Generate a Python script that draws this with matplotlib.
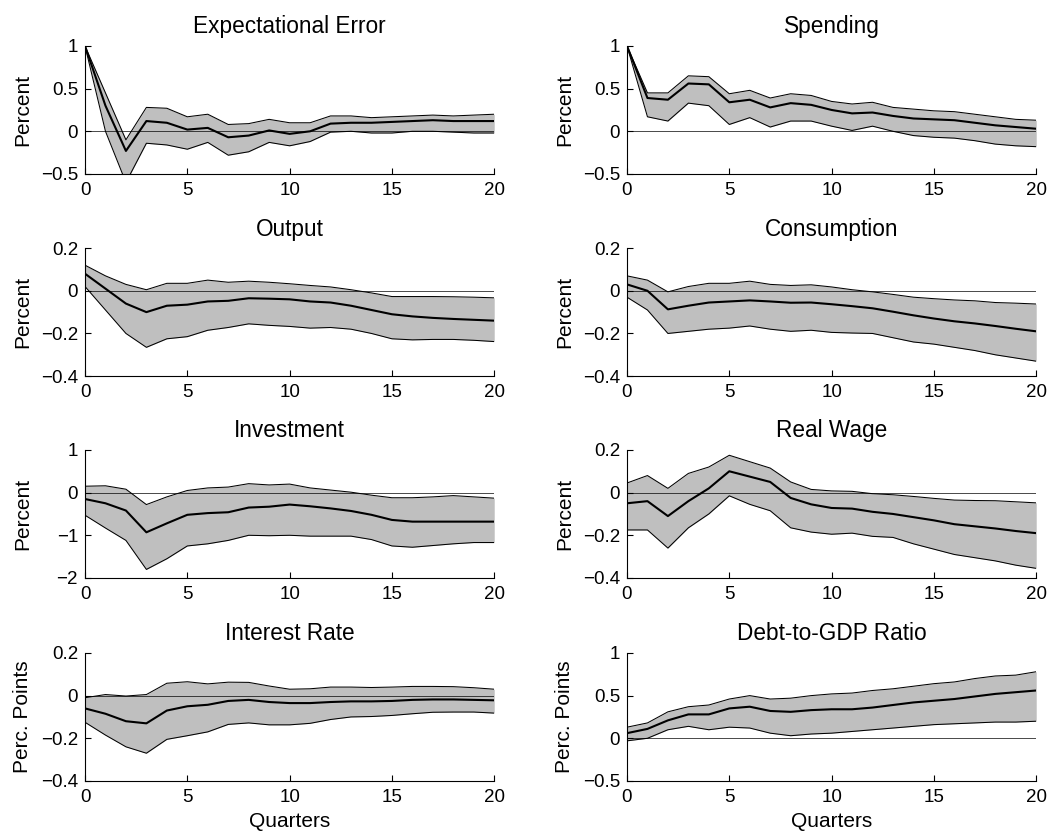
import numpy as np
import matplotlib
matplotlib.use("Agg")
import matplotlib.pyplot as plt

plt.rcParams['font.family'] = ['Liberation Sans', 'DejaVu Sans']

quarters = np.arange(0, 21)

titles = ["Expectational Error", "Spending", "Output", "Consumption",
          "Investment", "Real Wage", "Interest Rate", "Debt-to-GDP Ratio"]
ylabels = ["Percent"] * 6 + ["Perc. Points"] * 2
ylims = [(-0.5, 1), (-0.5, 1), (-0.4, 0.2), (-0.4, 0.2),
         (-2, 1), (-0.4, 0.2), (-0.4, 0.2), (-0.5, 1)]
yticks = [[-0.5, 0, 0.5, 1], [-0.5, 0, 0.5, 1],
          [-0.4, -0.2, 0, 0.2], [-0.4, -0.2, 0, 0.2],
          [-2, -1, 0, 1], [-0.4, -0.2, 0, 0.2],
          [-0.4, -0.2, 0, 0.2], [-0.5, 0, 0.5, 1]]

# median responses
exp_err = [1, 0.30, -0.23, 0.12, 0.10, 0.02, 0.04, -0.07, -0.05, 0.01, -0.03,
           0.0, 0.09, 0.10, 0.10, 0.11, 0.12, 0.13, 0.12, 0.12, 0.12]
spend = [1, 0.39, 0.37, 0.56, 0.55, 0.34, 0.37, 0.28, 0.33, 0.31, 0.25,
         0.21, 0.22, 0.18, 0.15, 0.14, 0.13, 0.10, 0.07, 0.05, 0.03]
output = [0.08, 0.01, -0.06, -0.10, -0.07, -0.065, -0.05, -0.047, -0.035, -0.037, -0.04,
          -0.05, -0.055, -0.07, -0.09, -0.11, -0.12, -0.127, -0.132, -0.136, -0.14]
cons = [0.03, 0.0, -0.087, -0.07, -0.055, -0.05, -0.045, -0.05, -0.056, -0.055, -0.063,
        -0.072, -0.082, -0.098, -0.115, -0.13, -0.143, -0.153, -0.165, -0.178, -0.19]
invest = [-0.15, -0.25, -0.42, -0.93, -0.72, -0.52, -0.48, -0.46, -0.35, -0.33, -0.28,
          -0.32, -0.37, -0.43, -0.52, -0.64, -0.68, -0.68, -0.68, -0.68, -0.68]
wage = [-0.05, -0.04, -0.11, -0.04, 0.02, 0.10, 0.075, 0.05, -0.025, -0.055, -0.072,
        -0.075, -0.09, -0.10, -0.115, -0.13, -0.148, -0.158, -0.168, -0.18, -0.19]
rate = [-0.06, -0.085, -0.12, -0.13, -0.07, -0.05, -0.043, -0.025, -0.02, -0.03, -0.035,
        -0.035, -0.03, -0.027, -0.027, -0.025, -0.02, -0.018, -0.018, -0.02, -0.022]
debt = [0.06, 0.11, 0.21, 0.28, 0.28, 0.35, 0.37, 0.32, 0.31, 0.33, 0.34,
        0.34, 0.36, 0.39, 0.42, 0.44, 0.46, 0.49, 0.52, 0.54, 0.56]

# upper bands
exp_err_hi = [1, 0.45, -0.10, 0.28, 0.27, 0.17, 0.20, 0.08, 0.09, 0.14, 0.10,
              0.10, 0.18, 0.18, 0.16, 0.17, 0.18, 0.19, 0.18, 0.19, 0.20]
spend_hi = [1, 0.45, 0.45, 0.65, 0.64, 0.44, 0.48, 0.39, 0.44, 0.42, 0.35,
            0.32, 0.34, 0.28, 0.26, 0.24, 0.23, 0.20, 0.17, 0.14, 0.13]
output_hi = [0.12, 0.07, 0.03, 0.005, 0.035, 0.035, 0.05, 0.04, 0.045, 0.04, 0.033,
             0.025, 0.018, 0.005, -0.01, -0.027, -0.027, -0.027, -0.028, -0.03, -0.033]
cons_hi = [0.07, 0.05, -0.005, 0.02, 0.035, 0.035, 0.045, 0.03, 0.025, 0.028, 0.018,
           0.005, -0.005, -0.017, -0.03, -0.037, -0.043, -0.047, -0.055, -0.058, -0.062]
invest_hi = [0.15, 0.16, 0.08, -0.28, -0.10, 0.05, 0.11, 0.13, 0.21, 0.18, 0.20,
             0.11, 0.06, 0.01, -0.06, -0.12, -0.12, -0.10, -0.07, -0.10, -0.13]
wage_hi = [0.045, 0.08, 0.02, 0.09, 0.12, 0.175, 0.145, 0.115, 0.05, 0.015, 0.008,
           0.006, -0.005, -0.01, -0.018, -0.027, -0.035, -0.037, -0.038, -0.043, -0.048]
rate_hi = [-0.01, 0.005, -0.002, 0.005, 0.058, 0.065, 0.055, 0.063, 0.062, 0.045, 0.03,
           0.032, 0.04, 0.04, 0.038, 0.04, 0.043, 0.043, 0.042, 0.037, 0.03]
debt_hi = [0.13, 0.18, 0.31, 0.37, 0.39, 0.46, 0.50, 0.46, 0.47, 0.50, 0.52,
           0.53, 0.56, 0.58, 0.61, 0.64, 0.66, 0.70, 0.73, 0.74, 0.78]

# lower bands
exp_err_lo = [1, 0.0, -0.60, -0.14, -0.16, -0.21, -0.13, -0.28, -0.24, -0.13, -0.17,
              -0.12, -0.01, 0.0, -0.02, -0.02, 0.0, 0.0, -0.01, -0.02, -0.02]
spend_lo = [1, 0.17, 0.12, 0.33, 0.30, 0.08, 0.16, 0.05, 0.12, 0.12, 0.06,
            0.01, 0.06, 0.0, -0.05, -0.07, -0.08, -0.11, -0.15, -0.17, -0.18]
output_lo = [0.02, -0.09, -0.20, -0.265, -0.225, -0.215, -0.185, -0.172, -0.155, -0.162, -0.167,
             -0.175, -0.172, -0.18, -0.20, -0.225, -0.23, -0.228, -0.228, -0.232, -0.238]
cons_lo = [-0.03, -0.09, -0.20, -0.19, -0.18, -0.175, -0.165, -0.18, -0.19, -0.185, -0.195,
           -0.198, -0.20, -0.22, -0.24, -0.25, -0.265, -0.28, -0.30, -0.315, -0.33]
invest_lo = [-0.53, -0.83, -1.12, -1.80, -1.55, -1.25, -1.20, -1.12, -1.00, -1.01, -1.00,
             -1.02, -1.02, -1.02, -1.10, -1.25, -1.28, -1.24, -1.20, -1.17, -1.17]
wage_lo = [-0.175, -0.175, -0.26, -0.165, -0.10, -0.015, -0.055, -0.085, -0.165, -0.185, -0.195,
           -0.19, -0.205, -0.21, -0.24, -0.265, -0.29, -0.305, -0.32, -0.34, -0.355]
rate_lo = [-0.125, -0.185, -0.24, -0.27, -0.205, -0.188, -0.17, -0.135, -0.128, -0.137, -0.137,
           -0.13, -0.112, -0.10, -0.098, -0.093, -0.085, -0.078, -0.077, -0.077, -0.082]
debt_lo = [-0.03, 0.0, 0.10, 0.14, 0.10, 0.13, 0.12, 0.06, 0.03, 0.05, 0.06,
           0.08, 0.10, 0.12, 0.14, 0.16, 0.17, 0.18, 0.19, 0.19, 0.20]

mid = [exp_err, spend, output, cons, invest, wage, rate, debt]
hi = [exp_err_hi, spend_hi, output_hi, cons_hi, invest_hi, wage_hi, rate_hi, debt_hi]
lo = [exp_err_lo, spend_lo, output_lo, cons_lo, invest_lo, wage_lo, rate_lo, debt_lo]

fig = plt.figure(figsize=(10.52, 8.34), dpi=100)

lefts = [0.0808, 0.596]
bottoms = [0.7914, 0.549, 0.307, 0.0636]
w, h = 0.389, 0.1535

for i in range(8):
    r, c = divmod(i, 2)
    ax = fig.add_axes([lefts[c], bottoms[r], w, h])
    ax.fill_between(quarters, lo[i], hi[i], color='#bfbfbf', lw=0)
    ax.plot(quarters, hi[i], color='k', lw=0.75)
    ax.plot(quarters, lo[i], color='k', lw=0.75)
    ax.plot(quarters, mid[i], color='k', lw=1.5)
    ax.axhline(0, color='k', lw=0.5)
    ax.set_xlim(0, 20)
    ax.set_ylim(*ylims[i])
    ax.set_xticks([0, 5, 10, 15, 20])
    ax.set_yticks(yticks[i])
    ax.set_yticklabels([('%g' % t).replace('-', '\u2212') for t in yticks[i]])
    ax.spines['top'].set_visible(False)
    ax.spines['right'].set_visible(False)
    ax.tick_params(direction='in', length=4, width=0.8, labelsize=13.5)
    ax.tick_params(axis='x', pad=6)
    ax.tick_params(axis='y', pad=5)
    ax.set_title(titles[i], fontsize=16.3, pad=9)
    ax.set_ylabel(ylabels[i], fontsize=15)
    ax.yaxis.set_label_coords(-0.13, 0.5)
    if r == 3:
        ax.set_xlabel("Quarters", fontsize=15, labelpad=4)

fig.savefig("out.png", dpi=100)
